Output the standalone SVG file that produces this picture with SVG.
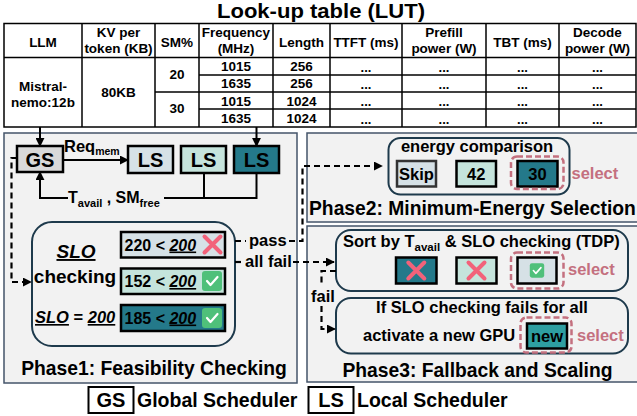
<svg xmlns="http://www.w3.org/2000/svg" width="637" height="416" viewBox="0 0 637 416">
<defs>
<style>
text{font-family:"Liberation Sans",Arial,sans-serif;font-weight:bold;fill:#000}
.th{font-size:13.5px;text-anchor:middle}
.dots{font-size:13px;text-anchor:middle}
.tl{stroke:#000;stroke-width:1.5}
.panel{fill:#f2f2f2;stroke:#44546a;stroke-width:1.5}
.inner{fill:#f2f2f2;stroke:#1e3a4c;stroke-width:2}
.box{stroke:#000;stroke-width:2.5}
.c1{fill:#d6e1e6}.c2{fill:#c5e4dc}.c3{fill:#24798a}.c4{fill:#2e9fa1}
.arrow{stroke:#000;stroke-width:2;fill:none}
.dash{stroke:#000;stroke-width:2.2;fill:none;stroke-dasharray:6 4}
.sel{fill:none;stroke:#c4707f;stroke-width:2.5;stroke-dasharray:6 3}
.seltxt{fill:#c4707f;font-size:16.5px}
.ph{font-size:19.3px;text-anchor:middle}
.m{font-size:16.5px}
.lg{font-size:19.5px}
.ls{font-size:20px;text-anchor:middle}
.u{text-decoration:underline}
</style>
<marker id="ah" viewBox="0 0 10 10" refX="9" refY="5" markerWidth="9" markerHeight="9" markerUnits="userSpaceOnUse" orient="auto"><path d="M0,0 L10,5 L0,10 z" fill="#000"/></marker>
<g id="xm"><path d="M-8,-8 L8,8 M8,-8 L-8,8" stroke="#f2627a" stroke-width="4" stroke-linecap="round" fill="none"/></g>
<g id="ck"><rect x="-10" y="-10" width="20" height="20" rx="3" fill="#4fc07a"/><path d="M-5,0 L-1.5,4 L5.5,-4" stroke="#fff" stroke-width="2.2" fill="none" stroke-linecap="round" stroke-linejoin="round"/></g>
</defs>

<!-- Title -->
<text x="217" y="17.5" font-size="21" textLength="208" lengthAdjust="spacingAndGlyphs">Look-up table (LUT)</text>

<!-- Table -->
<g id="lut">
<rect x="4" y="23.5" width="632" height="103.5" fill="#fff" class="tl"/>
<line class="tl" x1="4" y1="57.5" x2="636" y2="57.5"/>
<line class="tl" x1="199" y1="75" x2="636" y2="75"/>
<line class="tl" x1="155" y1="92" x2="636" y2="92"/>
<line class="tl" x1="199" y1="109" x2="636" y2="109"/>
<line class="tl" x1="82" y1="23.5" x2="82" y2="127"/>
<line class="tl" x1="155" y1="23.5" x2="155" y2="127"/>
<line class="tl" x1="199" y1="23.5" x2="199" y2="127"/>
<line class="tl" x1="273" y1="23.5" x2="273" y2="127"/>
<line class="tl" x1="330" y1="23.5" x2="330" y2="127"/>
<line class="tl" x1="402" y1="23.5" x2="402" y2="127"/>
<line class="tl" x1="486" y1="23.5" x2="486" y2="127"/>
<line class="tl" x1="559" y1="23.5" x2="559" y2="127"/>
<text class="th" x="43" y="46.5">LLM</text>
<text class="th" x="118.5" y="37">KV per</text>
<text class="th" x="118.5" y="53">token (KB)</text>
<text class="th" x="177" y="46.5">SM%</text>
<text class="th" x="236" y="37">Frequency</text>
<text class="th" x="236" y="53">(MHz)</text>
<text class="th" x="301.5" y="46.5">Length</text>
<text class="th" x="366" y="46.5">TTFT (ms)</text>
<text class="th" x="444" y="37">Prefill</text>
<text class="th" x="444" y="53">power (W)</text>
<text class="th" x="522.5" y="46.5">TBT (ms)</text>
<text class="th" x="597.5" y="37">Decode</text>
<text class="th" x="597.5" y="53">power (W)</text>
<text class="th" x="43" y="91">Mistral-</text>
<text class="th" x="43" y="107">nemo:12b</text>
<text class="th" x="118.5" y="97">80KB</text>
<text class="th" x="177" y="78.5">20</text>
<text class="th" x="177" y="113">30</text>
<text class="th" x="236" y="71">1015</text>
<text class="th" x="236" y="88">1635</text>
<text class="th" x="236" y="105.5">1015</text>
<text class="th" x="236" y="123">1635</text>
<text class="th" x="301.5" y="71">256</text>
<text class="th" x="301.5" y="88">256</text>
<text class="th" x="301.5" y="105.5">1024</text>
<text class="th" x="301.5" y="123">1024</text>
<g class="dots">
<text x="366" y="72">...</text><text x="444" y="72">...</text><text x="522.5" y="72">...</text><text x="597.5" y="72">...</text>
<text x="366" y="89">...</text><text x="444" y="89">...</text><text x="522.5" y="89">...</text><text x="597.5" y="89">...</text>
<text x="366" y="106">...</text><text x="444" y="106">...</text><text x="522.5" y="106">...</text><text x="597.5" y="106">...</text>
<text x="366" y="123.5">...</text><text x="444" y="123.5">...</text><text x="522.5" y="123.5">...</text><text x="597.5" y="123.5">...</text>
</g>
</g>

<!-- Panels -->
<g id="phase1">
<rect class="panel" x="4" y="133" width="293" height="250"/>
<text class="ph" x="154" y="375">Phase1: Feasibility Checking</text>
</g>
<g id="phase2">
<rect class="panel" x="307" y="133" width="340" height="89"/>
<text x="309" y="215" font-size="19.3">Phase2: Minimum-Energy Selection</text>
</g>
<g id="phase3">
<rect class="panel" x="307" y="226" width="340" height="156"/>
<text class="ph" x="477.5" y="376.5">Phase3: Fallback and Scaling</text>
</g>

<!-- Schedulers -->
<g id="gs">
<rect class="box" x="17" y="146" width="46" height="26" fill="#d9d9d9" stroke-width="2"/>
<text class="ls" x="40" y="166.5">GS</text>
</g>
<g id="ls1">
<rect class="box c1" x="128" y="146" width="45" height="27" stroke-width="2"/>
<text class="ls" x="150.5" y="166.5">LS</text>
</g>
<g id="ls2">
<rect class="box c2" x="181" y="146" width="45" height="27" stroke-width="2"/>
<text class="ls" x="203.5" y="166.5">LS</text>
</g>
<g id="ls3">
<rect class="box c3" x="234" y="146" width="45" height="27" stroke-width="2"/>
<text class="ls" x="256.5" y="166.5">LS</text>
</g>

<!-- SLO checking -->
<g id="slo">
<rect class="inner" x="32" y="222" width="203" height="124" rx="20"/>
<text x="76" y="258" font-size="19" text-anchor="middle" font-style="italic" class="u">SLO</text>
<text x="75" y="283" font-size="19" text-anchor="middle">checking</text>
<text x="35" y="323" font-size="16.5"><tspan font-style="italic" class="u">SLO</tspan> = <tspan font-style="italic" class="u">200</tspan></text>
</g>
<g id="chk1">
<rect class="box c1" x="121" y="232" width="104" height="25.5"/>
<text x="124.5" y="250.5" font-size="16">220 &lt; <tspan font-style="italic" class="u">200</tspan></text>
<use href="#xm" x="212.5" y="244.5"/>
</g>
<g id="chk2">
<rect class="box c2" x="121" y="268.5" width="104" height="25.5"/>
<text x="124.5" y="287" font-size="16">152 &lt; <tspan font-style="italic" class="u">200</tspan></text>
<use href="#ck" x="212" y="281"/>
</g>
<g id="chk3">
<rect class="box c3" x="121" y="305" width="104" height="26"/>
<text x="124.5" y="323.5" font-size="16">185 &lt; <tspan font-style="italic" class="u">200</tspan></text>
<use href="#ck" x="212" y="318"/>
</g>

<!-- Phase2 energy comparison -->
<g id="energy">
<rect class="inner" x="388.5" y="138" width="181" height="56.5" rx="12"/>
<text class="m" x="477" y="151.5" text-anchor="middle">energy comparison</text>
<rect class="c1" x="397" y="161" width="39" height="25.5" stroke="#333" stroke-width="2.5"/>
<text class="m" x="416.5" y="180" text-anchor="middle">Skip</text>
<rect class="box c2" x="456.5" y="161" width="39.5" height="25.5"/>
<text class="m" x="476.3" y="180" text-anchor="middle">42</text>
<rect class="box c3" x="517.5" y="161" width="40" height="25.5"/>
<text class="m" x="537.5" y="180" text-anchor="middle">30</text>
<rect class="sel" x="511" y="156.5" width="52.5" height="32.5" rx="6"/>
<text class="seltxt" x="571.5" y="178.5">select</text>
</g>

<!-- Phase3 sort box -->
<g id="sort">
<rect class="inner" x="336" y="230" width="292" height="61" rx="15"/>
<text class="m" x="343" y="247">Sort by T<tspan font-size="11.5" dy="4">avail</tspan><tspan dy="-4"> &amp; SLO checking (TDP)</tspan></text>
<rect class="box c3" x="396" y="257.5" width="40.5" height="26"/>
<use href="#xm" x="416.3" y="270.5"/>
<rect class="box c2" x="456.5" y="257.5" width="40" height="26"/>
<use href="#xm" x="476.5" y="270.5"/>
<rect class="box c1" x="517.5" y="257.5" width="39" height="26"/>
<use href="#ck" transform="translate(537,270.5) scale(0.72)"/>
<rect class="sel" x="511" y="252.5" width="52.5" height="36" rx="6"/>
<text class="seltxt" x="568" y="274.5">select</text>
</g>

<!-- Phase3 new GPU box -->
<g id="newgpu">
<rect class="inner" x="336" y="298" width="292" height="55.5" rx="15"/>
<text class="m" x="482" y="312.5" text-anchor="middle">If SLO checking fails for all</text>
<text class="m" x="363" y="340.5">activate a new GPU</text>
<rect class="box c4" x="527" y="323.5" width="40" height="25"/>
<text class="m" x="547" y="341.5" text-anchor="middle">new</text>
<rect class="sel" x="520.5" y="317.5" width="51" height="35" rx="6"/>
<text class="seltxt" x="577" y="340.5">select</text>
</g>

<!-- Connectors -->
<g id="connectors">
<line class="arrow" x1="40" y1="127" x2="40" y2="146" marker-end="url(#ah)"/>
<line class="arrow" x1="256.5" y1="127" x2="256.5" y2="146" marker-end="url(#ah)"/>
<line class="arrow" x1="63" y1="160" x2="128" y2="160" marker-end="url(#ah)"/>
<polyline class="arrow" points="204,173 204,198 256.5,198 256.5,173"/>
<line class="arrow" x1="204" y1="198" x2="164" y2="198"/>
<polyline class="arrow" points="68,198 40,198 40,172" marker-end="url(#ah)"/>
<polyline class="dash" points="17,158 11.5,158 11.5,282 31,282" marker-end="url(#ah)"/>
<line class="dash" x1="235" y1="241" x2="246" y2="241" stroke-dasharray="4 3 1.5 3"/>
<polyline class="dash" points="289,241 302.5,241 302.5,166 382,166" marker-end="url(#ah)"/>
<line class="dash" x1="235" y1="262" x2="243" y2="262"/>
<line class="dash" x1="293" y1="262" x2="334" y2="262" marker-end="url(#ah)"/>
<polyline class="dash" points="336,271 321.5,271 321.5,286"/>
<polyline class="dash" points="321.5,306 321.5,329 335,329" marker-end="url(#ah)"/>
</g>
<text class="m" x="64" y="151.5" font-size="15">Req<tspan font-size="10.5" dy="3">mem</tspan></text>
<text x="68" y="203" font-size="16">T<tspan font-size="11" dy="4">avail</tspan><tspan dy="-4"> , SM</tspan><tspan font-size="11" dy="4">free</tspan></text>
<text class="m" x="249" y="245.5">pass</text>
<text class="m" x="245" y="266.5">all fail</text>
<text class="m" x="323" y="301.5" text-anchor="middle">fail</text>

<!-- Legend -->
<g id="legend">
<rect x="88.5" y="387" width="45" height="26" fill="#fff" stroke="#000" stroke-width="2"/>
<text class="ls" x="111" y="407">GS</text>
<text class="lg" x="137" y="406.5">Global Scheduler</text>
<rect x="308.5" y="387" width="45" height="26" fill="#fff" stroke="#000" stroke-width="2"/>
<text class="ls" x="331" y="407">LS</text>
<text class="lg" x="357" y="406.5">Local Scheduler</text>
</g>
</svg>
